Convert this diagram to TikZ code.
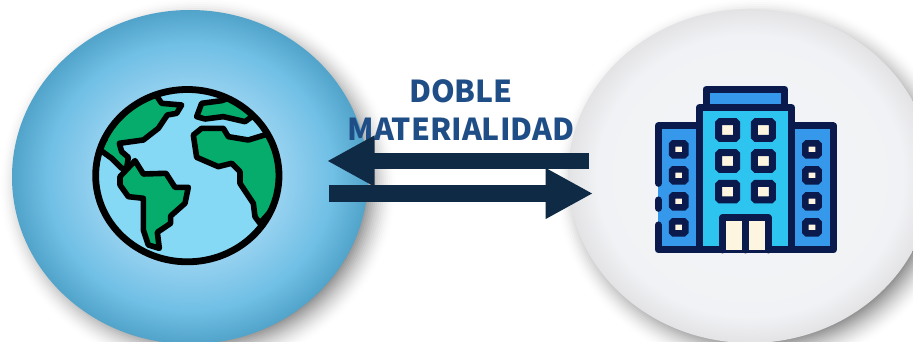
\documentclass[tikz,border=0pt]{standalone}
\usepackage{fontspec}
\setmainfont{Noto Sans CJK SC}
\usetikzlibrary{arrows.meta,shapes.geometric}
\definecolor{navyarrow}{HTML}{0F2A44}
\definecolor{titleblue}{HTML}{1F4E87}
\definecolor{oceanc}{HTML}{86D9F4}
\definecolor{landc}{HTML}{05AC6C}
\definecolor{bldnavy}{HTML}{0A1A4C}
\definecolor{bldblue}{HTML}{3598EA}
\definecolor{bldcyan}{HTML}{2EC4F0}
\definecolor{bldcream}{HTML}{FDF5E0}
\pgfdeclareradialshading{earthdisc}{\pgfpointorigin}{rgb(0bp)=(0.71,0.87,0.95); rgb(11bp)=(0.63,0.84,0.95); rgb(20bp)=(0.44,0.75,0.90); rgb(25bp)=(0.32,0.64,0.79); rgb(50bp)=(0.32,0.64,0.79)}
\pgfdeclareradialshading{firmdisc}{\pgfpointorigin}{rgb(0bp)=(0.955,0.96,0.97); rgb(21bp)=(0.945,0.95,0.96); rgb(25bp)=(0.89,0.89,0.90); rgb(50bp)=(0.89,0.89,0.90)}
\tikzset{
  x=1pt,y=-1pt,
  disc/.style={ellipse,inner sep=0pt,draw=none},
  bigarrow/.style={navyarrow,line width=16.5pt,-{Triangle[length=47.5pt,width=47.5pt]}},
  title/.style={font=\bfseries\fontsize{30.2}{36}\selectfont,text=titleblue,align=center,inner sep=0pt},
  land/.style={fill=landc,draw=black,line width=5.6pt,line join=round},
  globeline/.style={draw=black,line width=6.8pt},
  bld/.style={draw=bldnavy,line width=7pt,line join=round,line cap=round},
  bigwin/.style={fill=bldcream,draw=bldnavy,line width=7pt,rounded corners=1.5pt},
  smallwin/.style={fill=bldcream,draw=bldnavy,line width=6.5pt,rounded corners=1.5pt}
}
\begin{document}
\begin{tikzpicture}
\useasboundingbox (0,0) rectangle (913,342);
\clip (0,0) rectangle (913,342);
\fill[white] (0,0) rectangle (913,342);
% soft shadows
\foreach \d in {22,20,...,-10}{
  \pgfmathsetmacro{\op}{0.058*(22-\d)/32}
  \fill[black,opacity=\op] (198,185) ellipse [x radius={178+\d},y radius={167+\d}];
  \fill[black,opacity=\op] (758,185) ellipse [x radius={182+\d},y radius={167+\d}];
}
\node[disc,minimum width=356pt,minimum height=334pt,shading=earthdisc] (earth) at (190,177) {};
\node[disc,minimum width=364pt,minimum height=334pt,shading=firmdisc] (firm) at (750,176) {};
% globe
\begin{scope}[shift={(80,70)},x=0.3333pt,y=-0.3333pt]
  \fill[oceanc] (322,317) ellipse [x radius=272,y radius=256];
  \begin{scope}
    \clip (322,317) ellipse [x radius=272,y radius=256];
    \draw[land] (75,210)--(30,180)--(120,90)--(215,55)--(245,100)--(305,105)--(290,130)--(262,135)--(235,175)--(190,210)--(118,220)--(125,245)--(145,262)--(140,295)--(125,295)--(95,265)--(40,225)--cycle;
    \draw[land] (120,320)--(165,272)--(190,312)--(258,310)--(285,352)--(325,352)--(315,400)--(272,438)--(272,460)--(232,487)--(238,535)--(205,525)--(190,480)--(190,385)--(145,380)--(120,345)--cycle;
    \draw[land] (365,100)--(425,92)--(445,85)--(530,130)--(495,155)--(430,140)--(375,147)--(350,140)--cycle;
    \draw[land] (340,195)--(365,175)--(430,175)--(445,200)--(505,210)--(570,190)--(620,250)--(620,340)--(575,420)--(540,460)--(525,440)--(520,400)--(480,340)--(480,305)--(455,280)--(415,290)--(350,262)--cycle;
  \end{scope}
  \draw[globeline] (322,317) ellipse [x radius=275,y radius=258.5];
\end{scope}
% building
\begin{scope}[shift={(640,75)},x=0.3333pt,y=-0.3333pt]
  \fill[bldblue] (55,153) rectangle (178,525);
  \fill[bldblue] (455,153) rectangle (580,525);
  \draw[bld] (55,325)--(55,153)--(178,153);
  \draw[bld] (55,375)--(55,400);
  \draw[bld] (55,450)--(55,525)--(580,525)--(580,153)--(455,153);
  \draw[bld,fill=bldblue] (198,98)--(198,43)--(435,43)--(435,98);
  \draw[bld,fill=bldcyan] (178,98) rectangle (455,525);
  \foreach \cx in {263,370}\foreach \cy in {165,258,350}{
    \draw[bigwin] ({\cx-27},{\cy-25}) rectangle ({\cx+27},{\cy+25});
  }
  \foreach \cx in {116,516}\foreach \cy in {223,301,379,457}{
    \draw[smallwin] ({\cx-20},{\cy-18}) rectangle ({\cx+20},{\cy+18});
  }
  \draw[bld,fill=bldcream] (248,525)--(248,428)--(385,428)--(385,525);
  \draw[bld] (316,428)--(316,525);
\end{scope}
% title and arrows
\node[title] (label) at (461,91.5) {DOBLE};
\node[title] (labelb) at (461,129) {MATERIALIDAD};
\coordinate (aStart) at (589,161);
\coordinate (aEnd) at (327,161);
\coordinate (bStart) at (329,193.5);
\coordinate (bEnd) at (593,193.5);
\draw[bigarrow] (aStart) -- (aEnd);
\draw[bigarrow] (bStart) -- (bEnd);
\end{tikzpicture}
\end{document}
